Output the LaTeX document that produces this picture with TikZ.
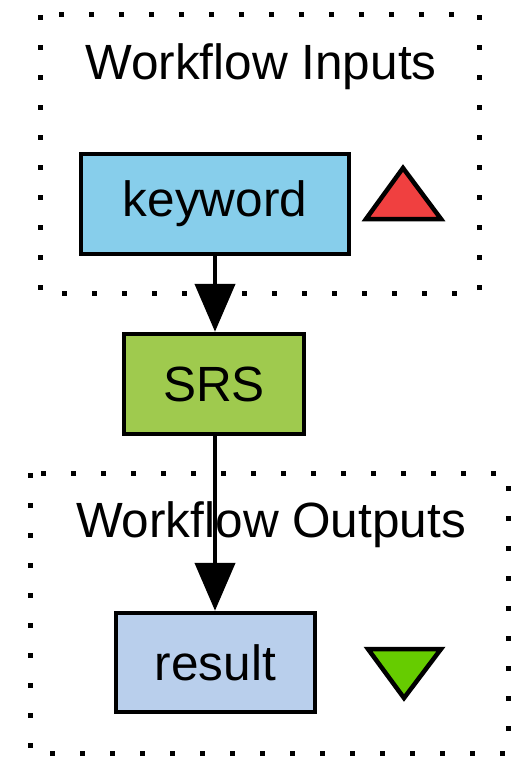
\documentclass[tikz,border=0pt]{standalone}
\usepackage{fontspec}
\setmainfont{Liberation Sans}
\usetikzlibrary{arrows.meta}
\definecolor{inputfill}{HTML}{87CEEB}
\definecolor{procfill}{HTML}{9FCA4E}
\definecolor{outputfill}{HTML}{B9CFEC}
\definecolor{redmark}{HTML}{F04040}
\definecolor{greenmark}{HTML}{66CC00}
\tikzset{
  every node/.style={font=\fontsize{49.5}{56}\selectfont},
  portbox/.style={draw=black, line width=4.5pt, inner sep=0pt},
  cluster/.style={line width=5pt, dash pattern=on 5pt off 25pt},
  flow/.style={line width=4.5pt, -{Triangle[length=48pt,width=40pt]}},
  marker/.style={draw=black, line width=4.5pt, line join=miter},
}
\begin{document}
\begin{tikzpicture}[x=1pt,y=-1pt]
  \useasboundingbox[fill=white] (0,0) rectangle (514,760);

  % input cluster
  \draw[cluster] (40,15) rectangle (479,293);
  \node[anchor=base] (intitle) at (261,80) {Workflow Inputs};
  \node[portbox, fill=inputfill, minimum width=268pt, minimum height=100pt] (keyword) at (215,204) {keyword};
  \draw[marker, fill=redmark] (403,168) -- (441,219) -- (366,219) -- cycle;

  % processor
  \node[portbox, fill=procfill, minimum width=180pt, minimum height=100pt] (srs) at (214,384) {SRS};

  % output cluster
  \draw[cluster] (30,473) rectangle (508,753);
  \node[anchor=base] (outtitle) at (271,537) {Workflow Outputs};
  \node[portbox, fill=outputfill, minimum width=199pt, minimum height=99pt] (result) at (215.5,662.5) {result};
  \draw[marker, fill=greenmark] (368,649) -- (441,649) -- (404,698) -- cycle;

  % data links
  \draw[flow] (keyword.south) -- (srs.north -| keyword.south);
  \draw[flow] (srs.south -| keyword.south) -- (result.north -| keyword.south);
\end{tikzpicture}
\end{document}
